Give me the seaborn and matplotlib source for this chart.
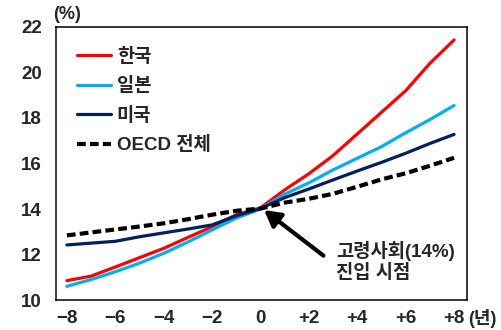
import matplotlib
matplotlib.use("Agg")
import matplotlib.pyplot as plt
import seaborn as sns
import pandas as pd

years = [-8, -7, -6, -5, -4, -3, -2, -1, 0, 1, 2, 3, 4, 5, 6, 7, 8]
korea = [10.85, 11.05, 11.45, 11.86, 12.27, 12.75, 13.22, 13.75, 14.05, 14.84, 15.55, 16.35, 17.3, 18.25, 19.2, 20.4, 21.43]
japan = [10.6, 10.9, 11.24, 11.62, 12.05, 12.55, 13.08, 13.6, 14.0, 14.65, 15.15, 15.72, 16.23, 16.74, 17.35, 17.93, 18.55]
usa = [12.42, 12.5, 12.58, 12.78, 12.95, 13.12, 13.3, 13.7, 14.02, 14.5, 14.88, 15.28, 15.67, 16.05, 16.45, 16.88, 17.28]
oecd = [12.84, 12.97, 13.1, 13.23, 13.37, 13.55, 13.75, 13.92, 14.02, 14.28, 14.45, 14.67, 14.98, 15.3, 15.57, 15.9, 16.25]
series_names = ["한국", "일본", "미국", "OECD 전체"]
xtick_vals = [-8, -6, -4, -2, 0, 2, 4, 6, 8]
xtick_labels = ["\u22128", "\u22126", "\u22124", "\u22122", "0", "+2", "+4", "+6", "+8"]
ytick_vals = [10, 12, 14, 16, 18, 20, 22]

sns.set_theme(style="white")
plt.rcParams["font.family"] = ["Liberation Sans", "Noto Sans CJK KR"]
plt.rcParams["font.weight"] = "bold"

fig = plt.figure(figsize=(5.01, 3.30), dpi=100)
ax = fig.add_axes([0.1118, 0.0909, 0.8197, 0.8273])

colors = ["#FF0000", "#00B0F0", "#002060", "#000000"]
styles = ["-", "-", "-", (0, (2.1, 1.0))]
widths = [2.3, 2.3, 2.3, 3.0]
for name, vals, c, ls, lw in zip(series_names, [korea, japan, usa, oecd], colors, styles, widths):
    df = pd.DataFrame({"x": years, "y": vals})
    sns.lineplot(data=df, x="x", y="y", ax=ax, color=c, linestyle=ls, linewidth=lw, label=name)

ax.set_xlim(-8.45, 8.52)
ax.set_ylim(10, 22)
ax.set_xticks(xtick_vals)
ax.set_xticklabels(xtick_labels, fontsize=13.5, fontweight="bold")
ax.set_yticks(ytick_vals)
ax.set_yticklabels([str(v) for v in ytick_vals], fontsize=13.5, fontweight="bold")
ax.set_xlabel("")
ax.set_ylabel("")
ax.tick_params(axis="y", direction="in", length=5, width=1, color="#1F2F5A", pad=10)
ax.tick_params(axis="x", length=0, pad=7)

for s in ["top", "right", "bottom"]:
    ax.spines[s].set_color("black")
    ax.spines[s].set_linewidth(1.1)
ax.spines["left"].set_color("#1F2F5A")
ax.spines["left"].set_linewidth(1.3)

leg = ax.legend(loc="upper left", bbox_to_anchor=(0.05, 0.925), frameon=False,
                handlelength=1.85, handletextpad=0.3, labelspacing=0.62,
                borderpad=0, borderaxespad=0, prop={"size": 13.5, "weight": "bold"})

fig.text(0.106, 0.955, "(%)", ha="left", va="center", fontsize=13, fontweight="bold")
fig.text(0.934, 0.036, "(년)", ha="left", va="center", fontsize=13, fontweight="bold")

ax.annotate("", xy=(0.15, 13.95), xytext=(2.6, 11.95),
            arrowprops=dict(arrowstyle="-|>,head_length=0.8,head_width=0.45", color="black",
                            lw=3, shrinkA=0, shrinkB=0))
ax.text(3.12, 11.7, "고령사회(14%)\n진입 시점", ha="left", va="center",
        fontsize=13.5, fontweight="bold", linespacing=1.25)

fig.savefig("out.png", dpi=100)
